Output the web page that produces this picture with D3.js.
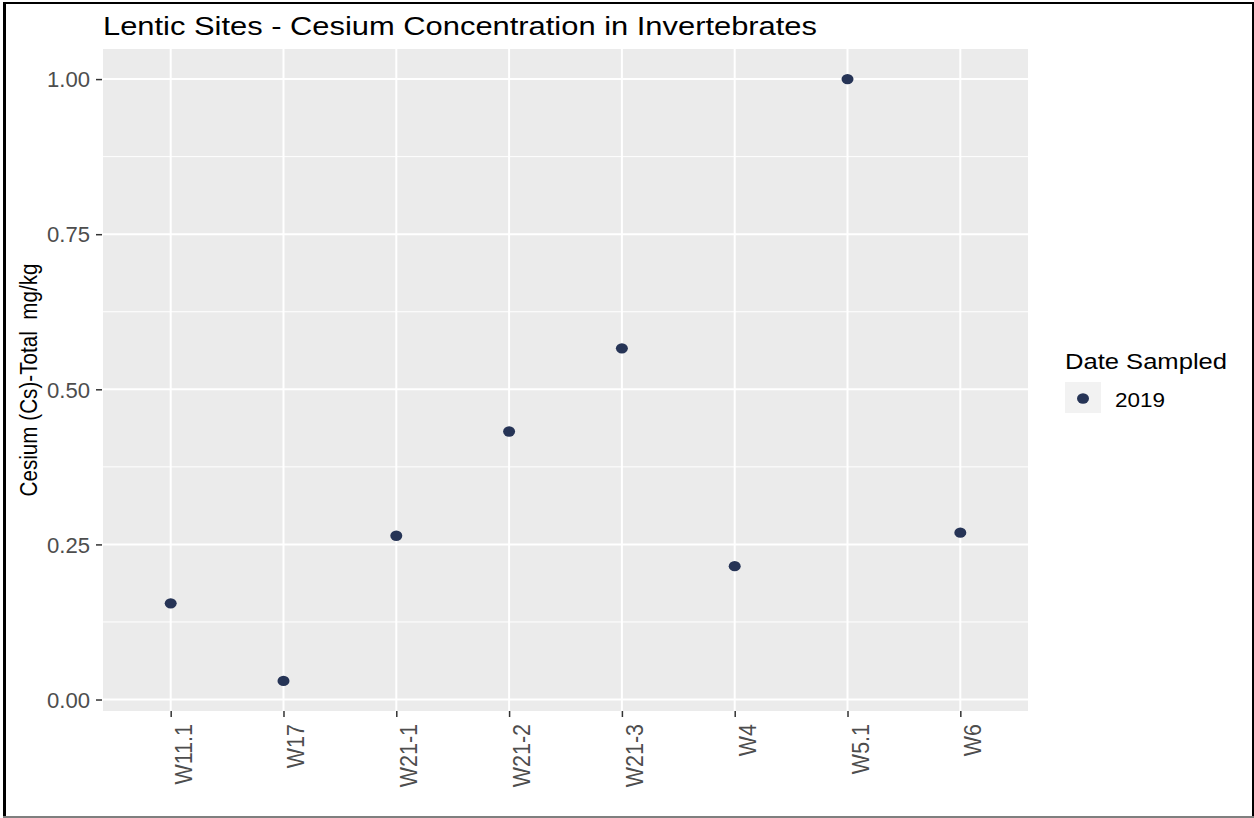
<!DOCTYPE html>
<html>
<head>
<meta charset="utf-8">
<script src="https://cdn.jsdelivr.net/npm/d3@7"></script>
<style>
  html, body { margin: 0; padding: 0; background: #ffffff; }
  svg { display: block; }
  text { font-family: "Liberation Sans", Arial, sans-serif; }
</style>
</head>
<body>
<svg id="chart" width="1254" height="818"></svg>
<script>
// Cesium totals per lentic site, sampled 2019
const sites = ["W11.1", "W17", "W21-1", "W21-2", "W21-3", "W4", "W5.1", "W6"];
const cesium = [0.155, 0.03, 0.264, 0.432, 0.566, 0.215, 1.0, 0.269];
const yTicks = [0, 0.25, 0.5, 0.75, 1.0];
const yMinor = [0.125, 0.375, 0.625, 0.875];
const legendYears = ["2019"];

const titleText = "Lentic Sites - Cesium Concentration in Invertebrates";
const yTitle = "Cesium (Cs)-Total  mg/kg";
const legendTitle = "Date Sampled";

const svg = d3.select("#chart");
const W = 1254, H = 818;

const panel = { left: 103, right: 1028, top: 49, bottom: 711 };
const pointColor = "#263456";

// continuous axis padded by 5% of the data range on each side
const [lo, hi] = d3.extent(cesium);
const pad = (hi - lo) * 0.05;

const x = d3.scalePoint().domain(sites).range([panel.left, panel.right]).padding(0.6);
const y = d3.scaleLinear().domain([lo - pad, hi + pad]).range([panel.bottom, panel.top]);

svg.append("rect").attr("width", W).attr("height", H).attr("fill", "#ffffff");

// panel background
svg.append("rect")
  .attr("x", panel.left).attr("y", panel.top)
  .attr("width", panel.right - panel.left).attr("height", panel.bottom - panel.top)
  .attr("fill", "#ebebeb");

// grid
const grid = svg.append("g");
grid.selectAll("line.minor").data(yMinor).join("line")
  .attr("x1", panel.left).attr("x2", panel.right)
  .attr("y1", d => y(d)).attr("y2", d => y(d))
  .attr("stroke", "#ffffff").attr("stroke-width", 1);
grid.selectAll("line.majy").data(yTicks).join("line")
  .attr("x1", panel.left).attr("x2", panel.right)
  .attr("y1", d => y(d)).attr("y2", d => y(d))
  .attr("stroke", "#ffffff").attr("stroke-width", 2);
grid.selectAll("line.majx").data(sites).join("line")
  .attr("x1", d => x(d)).attr("x2", d => x(d))
  .attr("y1", panel.top).attr("y2", panel.bottom)
  .attr("stroke", "#ffffff").attr("stroke-width", 2);

// y axis
const yAxis = d3.axisLeft(y).tickValues(yTicks).tickFormat(d3.format(".2f")).tickSize(6).tickPadding(6);
const gy = svg.append("g").attr("transform", `translate(${panel.left - 1},0)`).call(yAxis);
gy.select(".domain").remove();
gy.selectAll(".tick line").attr("stroke", "#333333").attr("stroke-width", 1.5);
gy.selectAll(".tick text")
  .attr("fill", "#4d4d4d").attr("font-size", 21.5)
  .attr("textLength", 43).attr("lengthAdjust", "spacingAndGlyphs")
  .attr("dy", "0.36em");

// x axis
const xAxis = d3.axisBottom(x).tickSize(6).tickPadding(0);
const gx = svg.append("g").attr("transform", `translate(0,${panel.bottom})`).call(xAxis);
gx.select(".domain").remove();
gx.selectAll(".tick line").attr("stroke", "#333333").attr("stroke-width", 1.5);
gx.selectAll(".tick text")
  .attr("fill", "#4d4d4d").attr("font-size", 21.5)
  .attr("text-anchor", "end")
  .attr("dy", null).attr("y", null)
  .attr("transform", "translate(20.5,13) rotate(-90) scale(1,1.15)");

// points
svg.append("g").selectAll("ellipse").data(sites).join("ellipse")
  .attr("cx", d => x(d))
  .attr("cy", (d, i) => y(cesium[i]))
  .attr("rx", 6).attr("ry", 5.2)
  .attr("fill", pointColor);

// title
svg.append("text")
  .attr("x", panel.left).attr("y", 35)
  .attr("font-size", 25.5).attr("fill", "#000000")
  .attr("textLength", 714).attr("lengthAdjust", "spacingAndGlyphs")
  .text(titleText);

// y axis title
svg.append("text")
  .attr("transform", `translate(36.5,${(panel.top + panel.bottom) / 2}) rotate(-90) scale(1,1.2)`)
  .attr("text-anchor", "middle")
  .attr("font-size", 20.5).attr("fill", "#000000")
  .style("white-space", "pre")
  .attr("textLength", 233).attr("lengthAdjust", "spacingAndGlyphs")
  .text(yTitle);

// legend
const lg = svg.append("g");
lg.append("text")
  .attr("x", 1065).attr("y", 369)
  .attr("font-size", 21.5).attr("fill", "#000000")
  .attr("textLength", 162).attr("lengthAdjust", "spacingAndGlyphs")
  .text(legendTitle);
const item = lg.selectAll("g.item").data(legendYears).join("g")
  .attr("transform", (d, i) => `translate(1065,${382 + i * 31})`);
item.append("rect").attr("width", 36).attr("height", 31).attr("fill", "#f2f2f2");
item.append("ellipse").attr("cx", 18).attr("cy", 16.5).attr("rx", 6).attr("ry", 5.2).attr("fill", pointColor);
item.append("text")
  .attr("x", 50).attr("y", 25)
  .attr("font-size", 21).attr("fill", "#000000")
  .attr("textLength", 50).attr("lengthAdjust", "spacingAndGlyphs")
  .text(d => d);

// outer frame
const frame = svg.append("g");
frame.append("line").attr("x1", 4.5).attr("x2", 4.5).attr("y1", 2).attr("y2", 818).attr("stroke", "#000").attr("stroke-width", 3);
frame.append("line").attr("x1", 3).attr("x2", 1254).attr("y1", 3).attr("y2", 3).attr("stroke", "#000").attr("stroke-width", 2);
frame.append("line").attr("x1", 1253).attr("x2", 1253).attr("y1", 2).attr("y2", 818).attr("stroke", "#000").attr("stroke-width", 2);
frame.append("line").attr("x1", 3).attr("x2", 1254).attr("y1", 817).attr("y2", 817).attr("stroke", "#7f7f7f").attr("stroke-width", 2);
</script>
</body>
</html>
